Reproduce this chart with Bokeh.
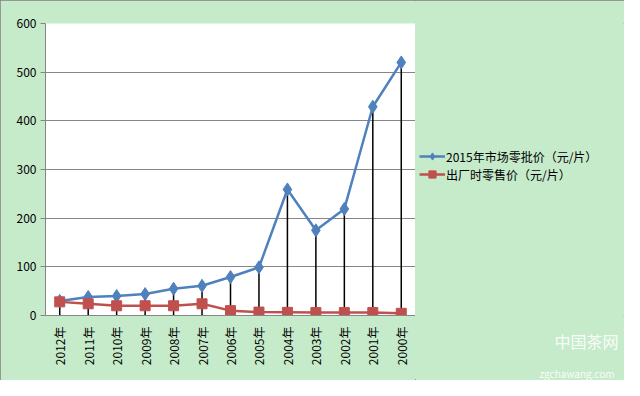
import math
from bokeh.plotting import figure
from bokeh.layouts import row
from bokeh.models import FixedTicker, Legend, LegendItem, Title, Range1d, FactorRange
from bokeh.embed import file_html
from bokeh.resources import INLINE

years = ["2012年", "2011年", "2010年", "2009年", "2008年", "2007年", "2006年",
         "2005年", "2004年", "2003年", "2002年", "2001年", "2000年"]
market_price = [30, 38, 40, 44, 55, 61, 79, 99, 259, 175, 219, 429, 520]
factory_price = [28, 24, 20, 20, 20, 24, 10, 7, 6.5, 6, 6, 6, 4.5]
y_ticks = [0, 100, 200, 300, 400, 500, 600]
series_names = ["2015年市场零批价（元/片）", "出厂时零售价（元/片）"]
watermark = ["中国茶网", "zgchawang.com"]

BG = "#C6EBCB"
GRAY = "#868686"
BLUE = "#4F81BD"
RED = "#C0504D"
FONT = "Noto Sans CJK SC"

# ---- main chart ----
p = figure(width=415, height=380, x_range=FactorRange(*years), y_range=Range1d(0, 600),
           output_backend="svg", toolbar_location=None,
           min_border_left=45, min_border_top=23, min_border_right=0, min_border_bottom=63)
p.background_fill_color = "white"
p.border_fill_color = BG
p.outline_line_color = None

p.xaxis.major_label_orientation = math.pi / 2
p.xaxis.major_tick_line_color = None
p.xaxis.minor_tick_line_color = None
p.xaxis.axis_line_color = GRAY
p.xaxis.major_label_text_font = FONT
p.xaxis.major_label_text_font_size = "12px"
p.xaxis.major_label_text_color = "black"
p.xaxis.major_label_standoff = 5
p.xgrid.grid_line_color = None

p.yaxis.ticker = FixedTicker(ticks=y_ticks)
p.yaxis.axis_line_color = GRAY
p.yaxis.major_tick_line_color = GRAY
p.yaxis.major_tick_in = 0
p.yaxis.major_tick_out = 5
p.yaxis.minor_tick_line_color = None
p.yaxis.major_label_text_font = FONT
p.yaxis.major_label_text_font_size = "12px"
p.yaxis.major_label_text_color = "black"
p.yaxis.major_label_standoff = 4
p.ygrid.grid_line_color = GRAY
p.ygrid.grid_line_width = 1

# drop lines from the higher point to the axis
tops = [max(a, b) for a, b in zip(market_price, factory_price)]
p.segment(x0=years, y0=[0] * len(years), x1=years, y1=tops, line_color="black", line_width=1.5)

p.line(years, market_price, line_color=BLUE, line_width=2.5)
p.scatter(years, market_price, marker="diamond", size=13, fill_color=BLUE, line_color=BLUE)
p.line(years, factory_price, line_color=RED, line_width=2.5)
p.scatter(years, factory_price, marker="square", size=10, fill_color=RED, line_color=RED)

# ---- legend / watermark panel ----
q = figure(width=209, height=380, x_range=FactorRange(*years), y_range=Range1d(0, 600),
           x_axis_type=None, y_axis_type=None,
           output_backend="svg", toolbar_location=None,
           min_border_left=0, min_border_right=0, min_border_top=0, min_border_bottom=0)
q.background_fill_color = BG
q.border_fill_color = BG
q.outline_line_color = None
q.xgrid.grid_line_color = None
q.ygrid.grid_line_color = None

k1 = q.line(years, market_price, line_color=BLUE, line_width=2.5, visible=False)
d1 = q.scatter(years, market_price, marker="diamond", size=11, fill_color=BLUE, line_color=BLUE,
               visible=False)
k2 = q.line(years, factory_price, line_color=RED, line_width=2.5, visible=False)
d2 = q.scatter(years, factory_price, marker="square", size=10, fill_color=RED, line_color=RED,
               visible=False)

legend = Legend(items=[LegendItem(label=series_names[0], renderers=[k1, d1]),
                       LegendItem(label=series_names[1], renderers=[k2, d2])],
                location=(4, 132))
legend.background_fill_alpha = 0
legend.border_line_color = None
legend.inactive_fill_alpha = 0
legend.label_text_font = FONT
legend.label_text_font_size = "12px"
legend.label_text_color = "black"
legend.glyph_width = 26
legend.label_standoff = 1
legend.spacing = 0
legend.padding = 0
legend.margin = 0
legend.label_height = 18
legend.glyph_height = 18
q.add_layout(legend, "center")

q.add_layout(Title(text=watermark[0], align="right", offset=6, standoff=22,
                   text_color="white", text_alpha=0.9, text_font=FONT,
                   text_font_size="16px", text_font_style="normal"), "below")
q.add_layout(Title(text=watermark[1], align="right", offset=10, standoff=0,
                   text_color="white", text_alpha=0.9, text_font=FONT,
                   text_font_size="10px", text_font_style="normal"), "below")

layout = row(p, q, spacing=0)
layout.styles = {"background-color": BG, "outline": "1px solid #808080", "outline-offset": "-1px"}
open("out.html", "w").write(file_html(layout, INLINE))
